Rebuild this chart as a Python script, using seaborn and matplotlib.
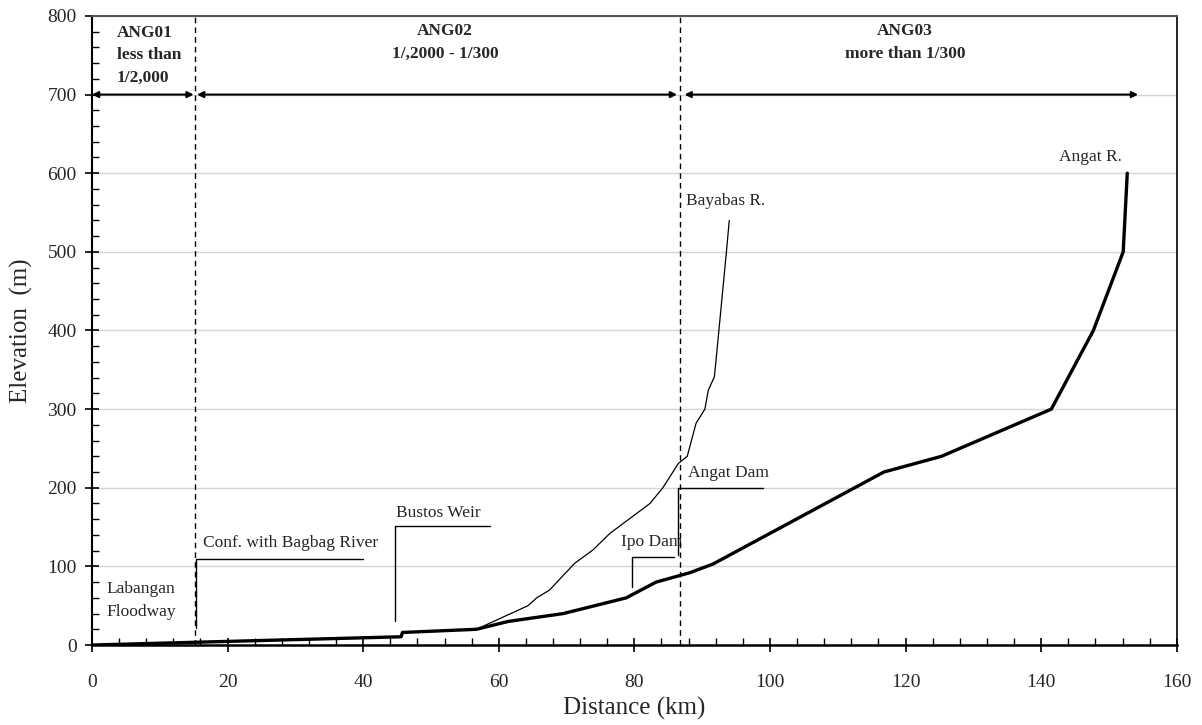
import numpy as np
import pandas as pd
import seaborn as sns
import matplotlib.pyplot as plt
from matplotlib.ticker import MultipleLocator

# Longitudinal profile data (distance km, elevation m).
angat_km = [0, 45.6, 45.8, 56.7, 61.4, 69.5, 78.8, 83.2, 88.2, 91.6, 116.8, 125.3, 141.5, 147.7, 152.1, 152.7]
angat_el = [0, 10.5, 16, 20, 30, 40, 60, 80, 92, 103, 220, 240, 300, 400, 500, 600]

bayabas_km = [56.7, 64.3, 65.6, 67.5, 71.2, 73.9, 76.4, 82.3, 84.2, 86.5, 87.8, 89.1, 90.4, 90.9, 91.8, 92.0, 93.6, 94.0]
bayabas_el = [20, 50, 60, 70, 104, 121, 142, 180, 200, 231, 240, 282, 300, 324, 341, 358, 502, 540]

# Reach boundaries and the reach classes.
reach_bounds = [15.2, 86.7]
reach_names = ['ANG01\nless than\n1/2,000', 'ANG02\n1/,2000 - 1/300', 'ANG03\nmore than 1/300']
reach_start = [0, 15.5, 87.4]
reach_end = [15.0, 86.3, 154.3]

# Structures along the river: label, chainage, top of callout, bottom of callout, end of leader.
struct_names = ['Conf. with Bagbag River', 'Bustos Weir', 'Ipo Dam', 'Angat Dam']
struct_km = [15.3, 44.7, 79.7, 86.5]
struct_top = [110, 151, 112, 200]
struct_bottom = [22, 30, 74, 115]
struct_end = [40.0, 58.7, 85.9, 99.0]

x_ticks = [0, 20, 40, 60, 80, 100, 120, 140, 160]
y_ticks = [0, 100, 200, 300, 400, 500, 600, 700, 800]

df = pd.concat([
    pd.DataFrame({'km': angat_km, 'el': angat_el, 'river': 'Angat R.'}),
    pd.DataFrame({'km': bayabas_km, 'el': bayabas_el, 'river': 'Bayabas R.'}),
], ignore_index=True)

sns.set_theme(style='white')
plt.rcParams['font.family'] = ['Liberation Serif', 'DejaVu Serif']
plt.rcParams['mathtext.default'] = 'regular'

fig = plt.figure(figsize=(12.02, 7.25), dpi=100)
ax = fig.add_axes([0.0765, 0.1103, 0.9025, 0.8677])

sns.lineplot(data=df, x='km', y='el', hue='river', size='river',
             sizes={'Angat R.': 2.4, 'Bayabas R.': 0.9},
             palette={'Angat R.': 'black', 'Bayabas R.': 'black'},
             sort=False, estimator=None, legend=False, ax=ax, zorder=5)

# Reach boundaries (dashed verticals).
for b in reach_bounds:
    ax.plot([b, b], [0, 800], color='black', lw=1.0, ls=(0, (4, 3)), zorder=4)

# Reach arrows at 700 m.
for s, e in zip(reach_start, reach_end):
    ax.annotate('', xy=(e, 700), xytext=(s, 700),
                arrowprops=dict(arrowstyle='<|-|>', color='black', lw=1.5,
                                mutation_scale=9, shrinkA=0, shrinkB=0), zorder=6)

ax.text(3.7, 750, reach_names[0], ha='left', va='center', fontsize=12.5,
        fontweight='bold', linespacing=1.55)
ax.text(52.1, 766, reach_names[1], ha='center', va='center', fontsize=12.5,
        fontweight='bold', linespacing=1.55)
ax.text(119.9, 766, reach_names[2], ha='center', va='center', fontsize=12.5,
        fontweight='bold', linespacing=1.55)

# Structure callouts.
text_pos = [(16.4, 130), (44.8, 168), (78.1, 131), (87.9, 219)]
for name, xk, yt, yb, xe, (tx, ty) in zip(struct_names, struct_km, struct_top,
                                          struct_bottom, struct_end, text_pos):
    ax.plot([xk, xk, xe], [yb, yt, yt], color='black', lw=1.0, zorder=5)
    ax.text(tx, ty, name, ha='left', va='center', fontsize=12.5)

ax.text(2.2, 57, 'Labangan\nFloodway', ha='left', va='center', fontsize=12.5, linespacing=1.55)
ax.text(87.6, 565, 'Bayabas R.', ha='left', va='center', fontsize=12.5)
ax.text(142.6, 620, 'Angat R.', ha='left', va='center', fontsize=12.5)

# Axes, ticks and grid.
ax.set_xlim(0, 160)
ax.set_ylim(0, 800)
ax.set_xticks(x_ticks)
ax.set_yticks(y_ticks)
ax.xaxis.set_minor_locator(MultipleLocator(4))
ax.yaxis.set_minor_locator(MultipleLocator(20))
ax.tick_params(which='major', direction='inout', length=10, width=1.2, color='black',
               labelsize=14, bottom=True, left=True)
ax.tick_params(axis='x', which='major', pad=16)
ax.tick_params(axis='y', which='major', pad=6)
ax.tick_params(which='minor', direction='in', length=5, width=1.0, color='black',
               bottom=True, left=True)
ax.yaxis.grid(True, color='#d4d4d4', lw=1.0)
ax.set_axisbelow(True)

for side in ['left', 'bottom', 'top', 'right']:
    ax.spines[side].set_visible(True)
    ax.spines[side].set_color('black')
ax.spines['left'].set_linewidth(1.5)
ax.spines['bottom'].set_linewidth(1.8)
ax.spines['right'].set_linewidth(1.2)
ax.spines['top'].set_linewidth(1.5)
ax.spines['top'].set_color('#555555')

ax.set_xlabel('Distance (km)', fontsize=18, labelpad=4)
ax.set_ylabel('Elevation  (m)', fontsize=18, labelpad=10)

fig.savefig('out.png', dpi=100)
